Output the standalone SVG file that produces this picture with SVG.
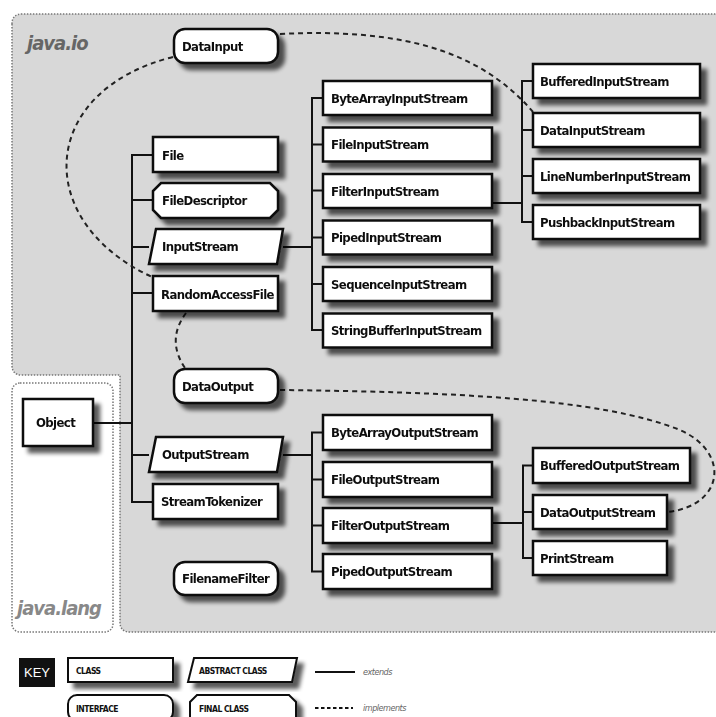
<svg xmlns="http://www.w3.org/2000/svg" width="716" height="717" viewBox="0 0 716 717">
<defs>
<filter id="sh" x="-10%" y="-20%" width="130%" height="160%">
<feGaussianBlur in="SourceAlpha" stdDeviation="2.3"/>
<feOffset dx="6" dy="6" result="b"/>
<feComponentTransfer><feFuncA type="linear" slope="0.65"/></feComponentTransfer>
<feMerge><feMergeNode/><feMergeNode in="SourceGraphic"/></feMerge>
</filter>
<style>
.bx{fill:#fff;stroke:#111;stroke-width:2.5}
.t{font-family:"DejaVu Sans Condensed","DejaVu Sans",sans-serif;font-weight:bold;font-size:13px;fill:#111;letter-spacing:-0.6px}
.k{font-family:"DejaVu Sans Condensed","DejaVu Sans",sans-serif;font-weight:bold;font-size:8.5px;fill:#111;letter-spacing:-0.5px}
.ln{fill:none;stroke:#111;stroke-width:2}
.dl{fill:none;stroke:#222;stroke-width:2;stroke-dasharray:5 4}
.pkg{font-family:"DejaVu Sans Condensed","DejaVu Sans",sans-serif;font-weight:bold;font-style:italic;font-size:20px;letter-spacing:-1px}
.ki{font-family:"DejaVu Sans Condensed","DejaVu Sans",sans-serif;font-style:italic;font-size:9px;fill:#666;letter-spacing:-0.5px}
</style>
</defs>
<rect width="716" height="717" fill="#fff"/>
<path d="M12 24 Q12 14 22 14 L722 14 L722 632 L130 632 Q120 632 120 622 L120 375 L22 375 Q12 375 12 365 Z" fill="#d8d8d8" stroke="#777" stroke-width="1.5" stroke-dasharray="1.5 1.5"/>
<rect x="12" y="383" width="101" height="249" rx="8" fill="#fff" stroke="#777" stroke-width="1.5" stroke-dasharray="1.5 1.5"/>
<text class="pkg" x="27" y="50" fill="#666">java.io</text>
<text class="pkg" x="17" y="615" fill="#888">java.lang</text>

<g id="connectors">
<path class="ln" d="M93 423 H132 M153 155 H132 V502 H153 M132 200 H153 M132 247 H149 M132 293 H153 M132 455 H149"/>
<path class="ln" d="M283 247 H312 M323 98 H312 V330 H323 M312 144.5 H323 M312 190.5 H323 M312 237.5 H323 M312 284 H323"/>
<path class="ln" d="M492 203 H522 M533 81 H522 V222 H533 M522 130 H533 M522 176 H533"/>
<path class="ln" d="M283 455 H312 M323 432.5 H312 V571.5 H323 M312 479.5 H323 M312 525.5 H323"/>
<path class="ln" d="M492 523 H523 M533 465.5 H523 V558 H533 M523 512 H533"/>
<path class="dl" d="M280 34 C400 28 480 50 533 112"/>
<path class="dl" d="M173 57 C40 90 30 220 152 277"/>
<path class="dl" d="M186 313 Q166 340 185 368"/>
<path class="dl" d="M280 390 C450 392 600 398 680 430 C730 452 725 505 668 512"/>
</g>

<g id="DataInput" filter="url(#sh)"><rect class="bx" x="174" y="29" width="104" height="34" rx="11"/><text class="t" x="182" y="51">DataInput</text></g>
<g id="File" filter="url(#sh)"><rect class="bx" x="153" y="137" width="125" height="35"/><text class="t" x="162" y="159.5">File</text></g>
<g id="FileDescriptor" filter="url(#sh)"><polygon class="bx" points="161,183 270,183 278,191 278,210 270,218 161,218 153,210 153,191"/><text class="t" x="162" y="205">FileDescriptor</text></g>
<g id="InputStream" filter="url(#sh)"><polygon class="bx" points="156,229 283,229 277,264 149,264"/><text class="t" x="162" y="251">InputStream</text></g>
<g id="RandomAccessFile" filter="url(#sh)"><rect class="bx" x="153" y="276" width="125" height="35"/><text class="t" x="161" y="298.5">RandomAccessFile</text></g>
<g id="DataOutput" filter="url(#sh)"><rect class="bx" x="174" y="369" width="104" height="34" rx="11"/><text class="t" x="182" y="390.5">DataOutput</text></g>
<g id="Object" filter="url(#sh)"><rect class="bx" x="23" y="399" width="70" height="47"/><text class="t" x="36" y="427">Object</text></g>
<g id="OutputStream" filter="url(#sh)"><polygon class="bx" points="156,437 283,437 277,472 149,472"/><text class="t" x="162" y="459">OutputStream</text></g>
<g id="StreamTokenizer" filter="url(#sh)"><rect class="bx" x="153" y="484" width="125" height="35"/><text class="t" x="161" y="506">StreamTokenizer</text></g>
<g id="FilenameFilter" filter="url(#sh)"><rect class="bx" x="174" y="562" width="104" height="33" rx="11"/><text class="t" x="182" y="583">FilenameFilter</text></g>

<g id="ByteArrayInputStream" filter="url(#sh)"><rect class="bx" x="323" y="81" width="169" height="34"/><text class="t" x="331" y="102.5">ByteArrayInputStream</text></g>
<g id="FileInputStream" filter="url(#sh)"><rect class="bx" x="323" y="127.5" width="169" height="34"/><text class="t" x="331" y="149">FileInputStream</text></g>
<g id="FilterInputStream" filter="url(#sh)"><rect class="bx" x="323" y="174" width="169" height="34"/><text class="t" x="331" y="195.5">FilterInputStream</text></g>
<g id="PipedInputStream" filter="url(#sh)"><rect class="bx" x="323" y="220.5" width="169" height="34"/><text class="t" x="331" y="242">PipedInputStream</text></g>
<g id="SequenceInputStream" filter="url(#sh)"><rect class="bx" x="323" y="267" width="169" height="34"/><text class="t" x="331" y="288.5">SequenceInputStream</text></g>
<g id="StringBufferInputStream" filter="url(#sh)"><rect class="bx" x="323" y="313.5" width="169" height="34"/><text class="t" x="331" y="335">StringBufferInputStream</text></g>

<g id="BufferedInputStream" filter="url(#sh)"><rect class="bx" x="533" y="64" width="167" height="34"/><text class="t" x="540" y="85.5">BufferedInputStream</text></g>
<g id="DataInputStream" filter="url(#sh)"><rect class="bx" x="533" y="113" width="167" height="34"/><text class="t" x="540" y="134.5">DataInputStream</text></g>
<g id="LineNumberInputStream" filter="url(#sh)"><rect class="bx" x="533" y="159" width="167" height="34"/><text class="t" x="540" y="180.5">LineNumberInputStream</text></g>
<g id="PushbackInputStream" filter="url(#sh)"><rect class="bx" x="533" y="205" width="167" height="34"/><text class="t" x="540" y="226.5">PushbackInputStream</text></g>

<g id="ByteArrayOutputStream" filter="url(#sh)"><rect class="bx" x="323" y="415" width="169" height="35"/><text class="t" x="331" y="437">ByteArrayOutputStream</text></g>
<g id="FileOutputStream" filter="url(#sh)"><rect class="bx" x="323" y="462" width="169" height="35"/><text class="t" x="331" y="484">FileOutputStream</text></g>
<g id="FilterOutputStream" filter="url(#sh)"><rect class="bx" x="323" y="508" width="169" height="35"/><text class="t" x="331" y="530">FilterOutputStream</text></g>
<g id="PipedOutputStream" filter="url(#sh)"><rect class="bx" x="323" y="554" width="169" height="35"/><text class="t" x="331" y="576">PipedOutputStream</text></g>

<g id="BufferedOutputStream" filter="url(#sh)"><rect class="bx" x="533" y="448" width="157" height="35"/><text class="t" x="540" y="470">BufferedOutputStream</text></g>
<g id="DataOutputStream" filter="url(#sh)"><rect class="bx" x="533" y="495" width="134" height="34"/><text class="t" x="540" y="516.5">DataOutputStream</text></g>
<g id="PrintStream" filter="url(#sh)"><rect class="bx" x="533" y="541" width="134" height="34"/><text class="t" x="540" y="562.5">PrintStream</text></g>

<g id="key">
<rect x="19" y="658" width="36" height="29" fill="#111"/>
<text x="37" y="677" text-anchor="middle" font-family="Liberation Sans, sans-serif" font-size="13" fill="#fff">KEY</text>
<g filter="url(#sh)"><rect x="68" y="658" width="105" height="24" fill="#fff" stroke="#111" stroke-width="2"/></g>
<text class="k" x="76" y="673.5">CLASS</text>
<g filter="url(#sh)"><polygon points="194,658 297,658 292,682 188,682" fill="#fff" stroke="#111" stroke-width="2"/></g>
<text class="k" x="199" y="673.5">ABSTRACT CLASS</text>
<g filter="url(#sh)"><rect x="68" y="695" width="105" height="26" rx="9" fill="#fff" stroke="#111" stroke-width="2"/></g>
<text class="k" x="76" y="711.5">INTERFACE</text>
<g filter="url(#sh)"><polygon points="197,695 289,695 296,702 296,720 190,720 190,702" fill="#fff" stroke="#111" stroke-width="2"/></g>
<text class="k" x="199" y="711.5">FINAL CLASS</text>
<line x1="315" y1="672" x2="355" y2="672" stroke="#111" stroke-width="2"/>
<text class="ki" x="363" y="675">extends</text>
<line x1="315" y1="708" x2="353" y2="708" stroke="#111" stroke-width="2" stroke-dasharray="3.5 2.5"/>
<text class="ki" x="363" y="711">implements</text>
</g>
</svg>
